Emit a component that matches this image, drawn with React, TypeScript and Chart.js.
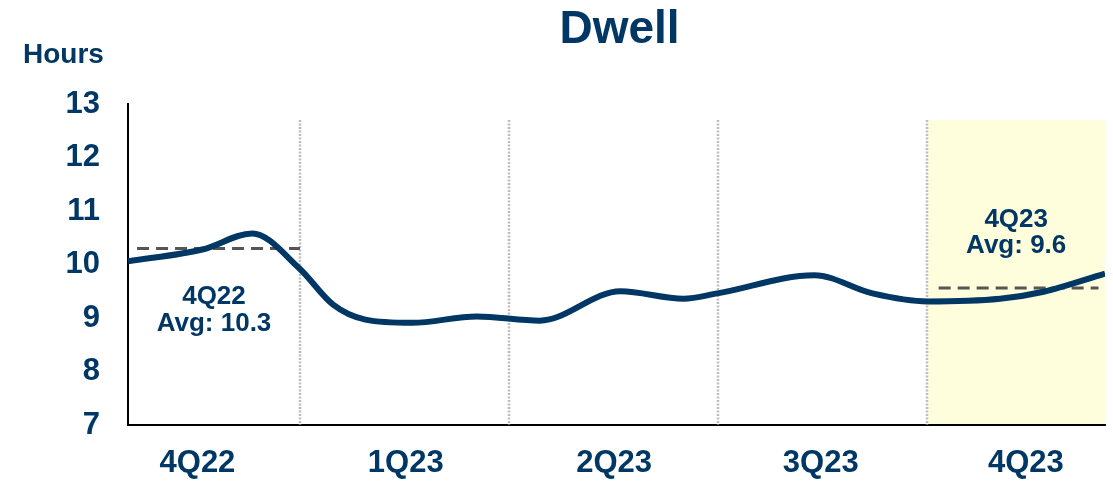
import { useEffect, useRef } from 'react';
import { Chart, registerables } from 'chart.js';

Chart.register(...registerables);

// ---- data ----
const weeks = [0, 4.6, 7.7, 10.6, 12.7, 14.7, 17.6, 21.6, 25.5, 30.5, 34.4, 36.5, 42.5, 46.1, 49.5, 54, 56.7, 60.5];
const dwellHours = [10.06, 10.28, 10.58, 9.93, 9.25, 8.97, 8.91, 9.03, 8.95, 9.5, 9.36, 9.46, 9.8, 9.46, 9.31, 9.36, 9.49, 9.83];

const quarterLabels = ['4Q22', '1Q23', '2Q23', '3Q23', '4Q23'];
const quarterLabelWeeks = [4.3, 17.2, 30.1, 42.9, 55.6];
const quarterBoundaryWeeks = [10.65, 23.6, 36.55, 49.5];

const yTickValues = [7, 8, 9, 10, 11, 12, 13];

const avg4Q22Weeks = [0.56, 10.65];
const avg4Q22 = 10.3;
const avg4Q23Weeks = [50.2, 60.1];
const avg4Q23 = 9.56;

const annotationTexts = [
  ['4Q22', 'Avg: 10.3'],
  ['4Q23', 'Avg: 9.6'],
];

const NAVY = '#003764';
const FONT = "'Liberation Sans', Arial, sans-serif";

export default function App() {
  const canvasRef = useRef<HTMLCanvasElement | null>(null);

  useEffect(() => {
    document.body.style.margin = '0';
    const canvas = canvasRef.current;
    if (!canvas) return;

    const decor = {
      id: 'decor',
      beforeDatasetsDraw(chart: any) {
        const { ctx, chartArea } = chart;
        const xs = chart.scales.x;
        const ys = chart.scales.y;
        const topY = ys.getPixelForValue(12.7);
        ctx.save();
        // highlighted current quarter
        const x4 = xs.getPixelForValue(quarterBoundaryWeeks[quarterBoundaryWeeks.length - 1]);
        ctx.fillStyle = '#FFFEDC';
        ctx.fillRect(x4, topY, chartArea.right - x4, chartArea.bottom - topY - 1);
        // dotted quarter dividers
        ctx.strokeStyle = '#BDBDBD';
        ctx.lineWidth = 2.5;
        ctx.setLineDash([2, 1.5]);
        quarterBoundaryWeeks.forEach((w) => {
          const px = Math.round(xs.getPixelForValue(w));
          ctx.beginPath();
          ctx.moveTo(px, topY);
          ctx.lineTo(px, chartArea.bottom);
          ctx.stroke();
        });
        ctx.restore();
      },
      afterDraw(chart: any) {
        const { ctx, chartArea } = chart;
        const xs = chart.scales.x;
        const ys = chart.scales.y;
        ctx.save();
        ctx.fillStyle = NAVY;
        // title
        ctx.font = `bold 46px ${FONT}`;
        ctx.textAlign = 'center';
        ctx.textBaseline = 'alphabetic';
        ctx.fillText('Dwell', (chartArea.left + chartArea.right) / 2 + 3, 43);
        // y unit
        ctx.font = `bold 28px ${FONT}`;
        ctx.textAlign = 'left';
        ctx.fillText('Hours', 23, 63);
        // annotations
        ctx.font = `bold 26px ${FONT}`;
        ctx.textAlign = 'center';
        const c1 = (xs.getPixelForValue(0) + xs.getPixelForValue(quarterBoundaryWeeks[0])) / 2;
        const c2 = (xs.getPixelForValue(quarterBoundaryWeeks[3]) + xs.getPixelForValue(60.5)) / 2;
        ctx.fillText(annotationTexts[0][0], c1, ys.getPixelForValue(9.27));
        ctx.fillText(annotationTexts[0][1], c1, ys.getPixelForValue(8.76));
        ctx.fillText(annotationTexts[1][0], c2, ys.getPixelForValue(10.71));
        ctx.fillText(annotationTexts[1][1], c2, ys.getPixelForValue(10.21));
        ctx.restore();
      },
    };

    const chart = new Chart(canvas, {
      type: 'line',
      data: {
        datasets: [
          {
            data: weeks.map((w, i) => ({ x: w, y: dwellHours[i] })),
            borderColor: NAVY,
            borderWidth: 6,
            pointRadius: 0,
            cubicInterpolationMode: 'monotone',
            fill: false,
            order: 0,
          },
          {
            data: avg4Q22Weeks.map((w) => ({ x: w, y: avg4Q22 })),
            borderColor: '#555555',
            borderWidth: 3,
            borderDash: [12, 7],
            pointRadius: 0,
            order: 1,
          },
          {
            data: avg4Q23Weeks.map((w) => ({ x: w, y: avg4Q23 })),
            borderColor: '#555555',
            borderWidth: 3,
            borderDash: [12, 7],
            pointRadius: 0,
            order: 1,
          },
        ],
      },
      options: {
        responsive: false,
        animation: false,
        layout: { padding: { top: 104, right: 8, left: 0, bottom: 0 } },
        plugins: {
          legend: { display: false },
          tooltip: { enabled: false },
          title: { display: false },
        },
        scales: {
          x: {
            type: 'linear',
            min: 0,
            max: 60.5,
            grid: { display: false, drawTicks: false, tickLength: 0 },
            border: { display: true, color: '#000', width: 2 },
            afterBuildTicks: (scale: any) => {
              scale.ticks = quarterLabelWeeks.map((v) => ({ value: v }));
            },
            afterFit: (scale: any) => {
              scale.height = 57;
            },
            ticks: {
              padding: 20,
              autoSkip: false,
              maxRotation: 0,
              color: NAVY,
              font: { family: FONT, size: 31, weight: 'bold' },
              callback: (v: any) => {
                const i = quarterLabelWeeks.indexOf(Number(v));
                return i >= 0 ? quarterLabels[i] : '';
              },
            },
          },
          y: {
            min: 7,
            max: 13,
            grid: { display: false, drawTicks: false, tickLength: 0 },
            border: { display: true, color: '#000', width: 2 },
            afterBuildTicks: (scale: any) => {
              scale.ticks = yTickValues.map((v) => ({ value: v }));
            },
            afterFit: (scale: any) => {
              scale.width = 128;
            },
            ticks: {
              padding: 28,
              color: NAVY,
              font: { family: FONT, size: 31, weight: 'bold' },
            },
          },
        },
      },
      plugins: [decor],
    } as any);

    return () => chart.destroy();
  }, []);

  return (
    <div style={{ width: 1113, height: 482, background: '#fff' }}>
      <canvas ref={canvasRef} width={1113} height={482} style={{ display: 'block' }} />
    </div>
  );
}
